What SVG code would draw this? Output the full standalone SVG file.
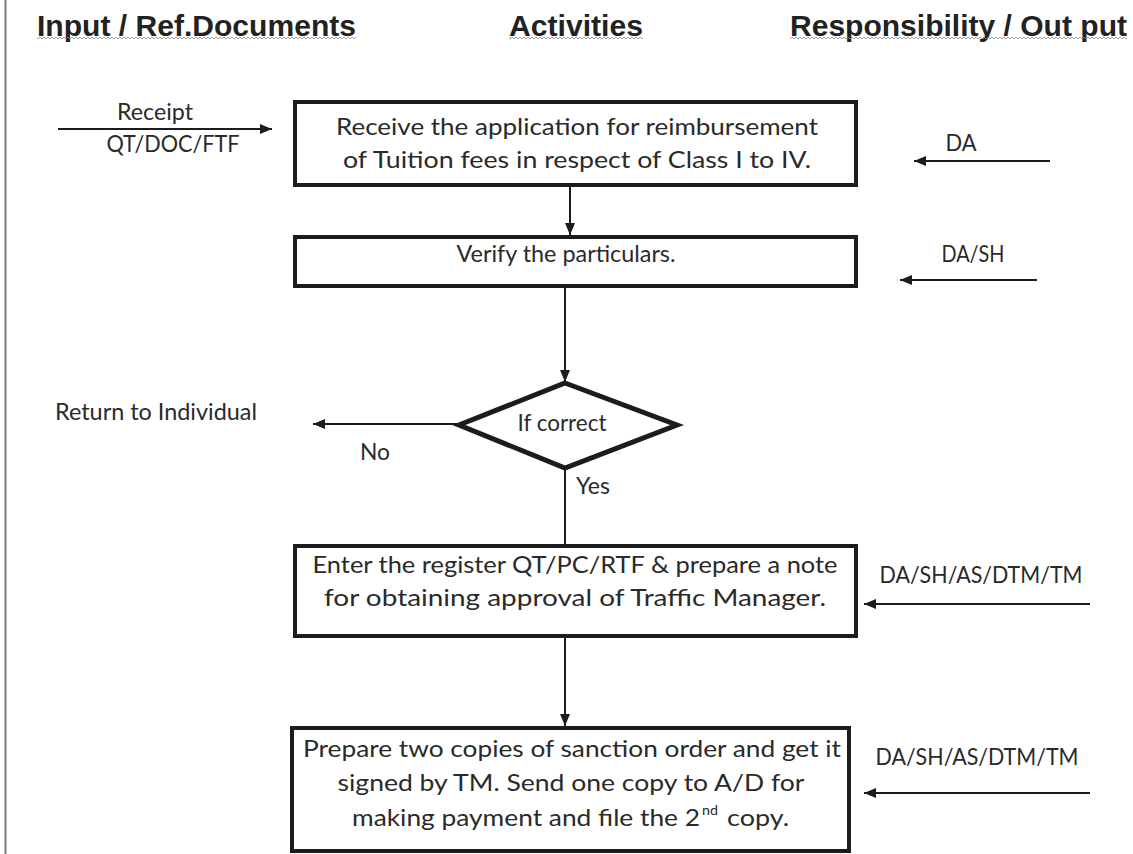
<svg xmlns="http://www.w3.org/2000/svg" width="1133" height="854" viewBox="0 0 1133 854">
  <style>
    .hdr { font-family: "Liberation Sans", Arial, sans-serif; font-weight: bold; font-size: 29px; fill: #222; }
    .t { font-family: Lato, "Noto Sans", sans-serif; font-size: 23px; fill: #2a2a2a; }
    .sup { font-family: Lato, "Noto Sans", sans-serif; font-size: 13px; fill: #2a2a2a; }
    .box { fill: #fff; stroke: #1c1c1c; stroke-width: 4; }
    .ln { stroke: #1c1c1c; stroke-width: 2; fill: none; }
    .arr { marker-end: url(#ah); }
  </style>
  <defs>
    <marker id="ah" viewBox="0 0 12 10" refX="12" refY="5" markerWidth="12" markerHeight="10" markerUnits="userSpaceOnUse" orient="auto">
      <path d="M0,0 L12,5 L0,10 Z" fill="#1c1c1c"/>
    </marker>
    <pattern id="wave" width="4" height="4" patternUnits="userSpaceOnUse">
      <path d="M0,1 L2,3 L4,1" fill="none" stroke="#8a8a8a" stroke-width="0.8"/>
    </pattern>
  </defs>

  <rect width="1133" height="854" fill="#fff"/>
  <!-- page margin line -->
  <line x1="5.5" y1="0" x2="5.5" y2="854" stroke="#7a7a7a" stroke-width="2"/>

  <!-- column headings -->
  <g id="headers">
    <text class="hdr" x="37" y="36" textLength="319" lengthAdjust="spacingAndGlyphs">Input / Ref.Documents</text>
    <rect x="37" y="37" width="319" height="4" fill="url(#wave)"/>
    <text class="hdr" x="509" y="36" textLength="134" lengthAdjust="spacingAndGlyphs">Activities</text>
    <rect x="509" y="37" width="134" height="4" fill="url(#wave)"/>
    <text class="hdr" x="790" y="36" textLength="337" lengthAdjust="spacingAndGlyphs">Responsibility / Out put</text>
    <rect x="790" y="37" width="337" height="4" fill="url(#wave)"/>
  </g>

  <!-- flow connectors and side arrows -->
  <g id="connectors">
    <line class="ln arr" x1="570" y1="187" x2="570" y2="235"/>
    <line class="ln arr" x1="565" y1="288" x2="565" y2="382"/>
    <line class="ln arr" x1="459" y1="424" x2="313" y2="424"/>
    <line class="ln" x1="565" y1="469" x2="565" y2="544"/>
    <line class="ln arr" x1="565" y1="638" x2="565" y2="726"/>
    <line class="ln arr" x1="58" y1="129" x2="272" y2="129"/>
    <line class="ln arr" x1="1050" y1="161" x2="914" y2="161"/>
    <line class="ln arr" x1="1037" y1="280" x2="900" y2="280"/>
    <line class="ln arr" x1="1090" y1="604" x2="864" y2="604"/>
    <line class="ln arr" x1="1090" y1="793" x2="864" y2="793"/>
  </g>

  <g id="input-receipt">
    <text class="t" x="155" y="120" text-anchor="middle" textLength="76" lengthAdjust="spacingAndGlyphs">Receipt</text>
    <text class="t" x="173" y="152" text-anchor="middle" textLength="133" lengthAdjust="spacingAndGlyphs">QT/DOC/FTF</text>
  </g>

  <g id="step-receive">
    <rect class="box" x="295" y="102" width="561" height="83"/>
    <text class="t" x="577" y="135" text-anchor="middle" textLength="482" lengthAdjust="spacingAndGlyphs">Receive the application for reimbursement</text>
    <text class="t" x="577" y="168" text-anchor="middle" textLength="468" lengthAdjust="spacingAndGlyphs">of Tuition fees in respect of Class I to IV.</text>
  </g>

  <g id="step-verify">
    <rect class="box" x="295" y="237" width="561" height="49"/>
    <text class="t" x="566" y="262" text-anchor="middle" textLength="219" lengthAdjust="spacingAndGlyphs">Verify the particulars.</text>
  </g>

  <g id="decision">
    <polygon points="565,383 677,425 565,468 459,425" fill="#fff" stroke="#1c1c1c" stroke-width="5" stroke-linejoin="miter"/>
    <text class="t" x="562" y="431" text-anchor="middle" textLength="89" lengthAdjust="spacingAndGlyphs">If correct</text>
    <text class="t" x="375" y="460" text-anchor="middle" textLength="30" lengthAdjust="spacingAndGlyphs">No</text>
    <text class="t" x="593" y="494" text-anchor="middle" textLength="34" lengthAdjust="spacingAndGlyphs">Yes</text>
  </g>

  <g id="return-individual">
    <text class="t" x="55" y="420" textLength="202" lengthAdjust="spacingAndGlyphs">Return to Individual</text>
  </g>

  <g id="step-register">
    <rect class="box" x="295" y="546" width="561" height="90"/>
    <text class="t" x="575" y="573" text-anchor="middle" textLength="525" lengthAdjust="spacingAndGlyphs">Enter the register QT/PC/RTF &amp; prepare a note</text>
    <text class="t" x="575" y="606" text-anchor="middle" textLength="502" lengthAdjust="spacingAndGlyphs">for obtaining approval of Traffic Manager.</text>
  </g>

  <g id="step-sanction">
    <rect class="box" x="292" y="728" width="557" height="123"/>
    <text class="t" x="572" y="757" text-anchor="middle" textLength="538" lengthAdjust="spacingAndGlyphs">Prepare two copies of sanction order and get it</text>
    <text class="t" x="571" y="791" text-anchor="middle" textLength="467" lengthAdjust="spacingAndGlyphs">signed by TM. Send one copy to A/D for</text>
    <text class="t" x="352" y="826" textLength="348" lengthAdjust="spacingAndGlyphs">making payment and file the 2</text>
    <text class="sup" x="702" y="815" textLength="16" lengthAdjust="spacingAndGlyphs">nd</text>
    <text class="t" x="727" y="826" textLength="62" lengthAdjust="spacingAndGlyphs">copy.</text>
  </g>

  <g id="resp-da">
    <text class="t" x="961" y="151" text-anchor="middle" textLength="31" lengthAdjust="spacingAndGlyphs">DA</text>
  </g>
  <g id="resp-dash">
    <text class="t" x="973" y="262" text-anchor="middle" textLength="63" lengthAdjust="spacingAndGlyphs">DA/SH</text>
  </g>
  <g id="resp-register">
    <text class="t" x="981" y="583" text-anchor="middle" textLength="203" lengthAdjust="spacingAndGlyphs">DA/SH/AS/DTM/TM</text>
  </g>
  <g id="resp-sanction">
    <text class="t" x="977" y="765" text-anchor="middle" textLength="203" lengthAdjust="spacingAndGlyphs">DA/SH/AS/DTM/TM</text>
  </g>
</svg>
